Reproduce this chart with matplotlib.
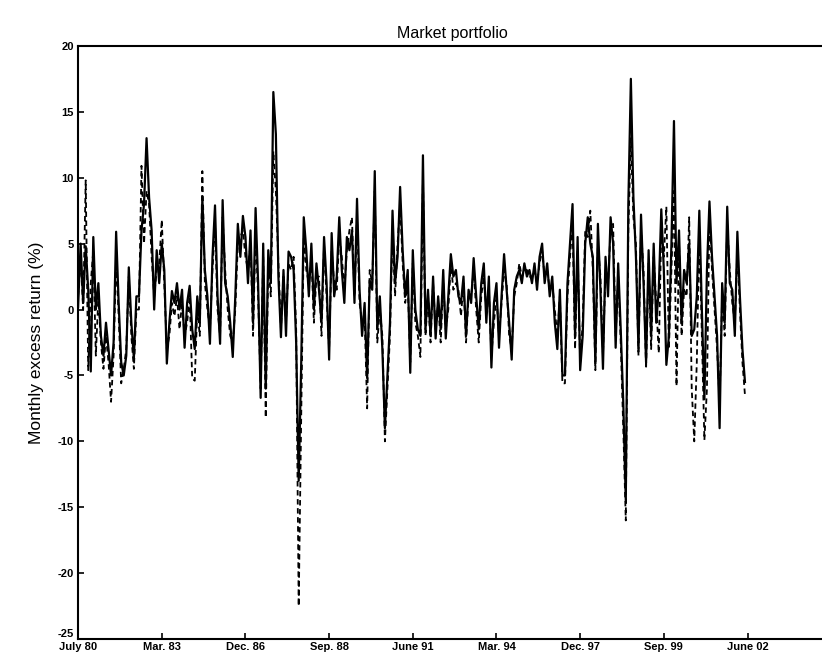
import numpy as np
import matplotlib
matplotlib.use("Agg")
import matplotlib.pyplot as plt

plt.rcParams['font.family'] = ['Liberation Sans', 'DejaVu Sans']
plt.rcParams['axes.unicode_minus'] = False

# Rendimientos mensuales en exceso (%), julio 1980 - junio 2002
solid = [
    0.2, 5.0, 0.5, 4.8, 1.5, -4.7, 5.5, 0.0, 2.0, -2.0, -3.5, -1.0,
    -3.0, -5.0, -2.5, 5.9, 0.5, -4.0, -5.0, -3.5, 3.2, -1.0, -3.7, 1.0,
    1.0, 6.0, 8.0, 13.0, 8.5, 6.0, 0.0, 4.5, 2.0, 5.0, 3.0, -4.1,
    -1.0, 1.4, 0.5, 2.0, 0.0, 1.5, -2.9, 0.5, 1.8, -1.5, -3.0, 1.0,
    -1.0, 8.5, 3.0, 1.0, -2.6, 4.0, 7.9, 1.0, -2.6, 8.3, 2.0, 1.0,
    -1.0, -3.6, 1.0, 6.5, 4.0, 7.1, 5.5, 2.0, 6.0, -1.0, 7.7, 2.0,
    -6.7, 5.0, -6.0, 4.5, 2.0, 16.5, 13.3, 2.5, -2.1, 3.0, -2.0, 4.4,
    4.0, 3.0, -2.5, -13.0, -4.0, 7.0, 4.5, 1.0, 5.0, 0.0, 3.5, 1.5,
    -1.0, 5.5, 2.0, -3.8, 5.8, 1.0, 2.5, 7.0, 3.0, 0.5, 5.5, 4.5,
    6.0, 0.5, 8.4, 1.5, -2.0, 0.5, -5.2, 2.2, 1.5, 10.5, -1.5, 1.0,
    -3.0, -9.0, -5.0, -1.0, 7.5, 2.0, 4.0, 9.3, 4.5, 1.0, 3.0, -4.8,
    4.5, 0.0, -1.5, -2.0, 11.7, -1.5, 1.5, -2.0, 2.5, -2.2, 1.0, -1.5,
    3.0, -2.2, 1.0, 4.2, 2.5, 3.0, 1.0, 0.5, 2.5, -2.0, 1.5, 0.5,
    3.9, 1.0, -1.5, 2.0, 3.5, -1.0, 2.5, -4.4, 0.5, 2.0, -2.9, 1.0,
    4.2, 1.5, -1.0, -3.8, 1.5, 2.5, 3.0, 2.0, 3.5, 2.5, 3.0, 2.0,
    3.5, 1.5, 4.0, 5.0, 2.0, 3.5, 1.0, 2.5, -1.0, -3.0, 1.5, -5.0,
    -5.0, 2.0, 5.0, 8.0, -2.0, 5.5, -4.6, -2.0, 5.0, 7.0, 5.0, 4.0,
    -4.1, 6.5, 1.5, -4.5, 4.0, 1.0, 7.0, 5.0, -2.9, 3.5, -1.5, -7.0,
    -14.5, 8.0, 17.5, 8.5, 4.0, -3.0, 7.2, 2.0, -4.0, 4.5, -2.0, 5.0,
    -1.0, 1.5, 7.6, 3.0, -4.2, -2.0, 5.0, 14.3, 2.0, 6.0, -1.0, 3.0,
    2.0, 5.0, -2.0, -1.5, 1.0, 7.5, 0.0, -6.8, 3.0, 8.2, 4.0, 1.0,
    -2.0, -9.0, 2.0, -1.0, 7.8, 2.0, 1.5, -2.0, 5.9, 1.0, -3.0, -5.5,
]
dashed = [
    1.0, 4.0, 0.0, 9.8, -4.6, 2.0, 4.5, -3.5, 1.0, -2.5, -4.5, -2.0,
    -4.0, -7.0, -3.5, 4.0, -0.5, -5.6, -4.5, -3.0, 2.5, -2.0, -4.5, 0.0,
    0.0, 10.9, 5.0, 9.0, 8.0, 4.0, 1.0, 3.0, 3.5, 6.8, 2.0, -3.0,
    -2.0, 0.5, -0.5, 1.0, -1.5, 0.5, -2.0, -1.0, 1.0, -5.2, -5.4, 0.0,
    -2.0, 10.5, 2.0, 0.0, -1.5, 3.0, 6.5, 0.0, -2.0, 7.0, 3.0, 0.0,
    -2.0, -2.5, 0.0, 5.0, 5.5, 6.0, 4.0, 3.0, 5.0, -2.0, 6.0, 1.0,
    -6.0, 4.0, -8.2, 3.5, 1.0, 12.0, 9.0, 3.5, -1.5, 2.5, -1.0, 3.5,
    3.0, 4.0, -1.5, -22.5, -8.0, 5.5, 3.0, 2.0, 4.0, -1.0, 2.5, 2.5,
    -2.0, 4.9, 1.0, -3.0, 4.5, 2.0, 1.5, 5.5, 4.0, 1.5, 4.5, 6.0,
    7.0, 1.0, 7.0, 0.5, -1.0, -0.5, -7.5, 3.0, 2.0, 9.0, -2.5, 0.0,
    -2.0, -10.0, -6.0, -2.0, 6.0, 1.0, 5.0, 8.0, 3.5, 0.5, 2.0, -4.0,
    3.5, -1.0, -2.0, -3.6, 10.0, -2.0, 1.0, -2.5, 2.0, -1.5, 0.5, -2.5,
    2.0, -1.5, 0.0, 3.5, 1.5, 2.0, 1.5, -0.5, 2.0, -2.5, 1.0, 1.0,
    3.0, 0.0, -2.5, 1.0, 2.5, 0.0, 1.5, -3.5, -1.0, 1.0, -2.0, 0.5,
    3.0, 2.0, -2.0, -3.0, 1.0, 2.0, 3.5, 2.5, 3.0, 3.0, 2.5, 2.5,
    3.0, 2.0, 3.5, 4.5, 2.5, 3.0, 1.5, 2.0, 0.0, -2.0, 1.0, -5.6,
    -5.6, 1.0, 4.0, 6.5, -3.0, 4.5, -4.0, -1.0, 6.0, 5.5, 7.5, 3.0,
    -4.6, 5.0, 2.5, -3.5, 3.0, 2.0, 6.0, 6.5, -2.0, 2.5, -2.5, -9.0,
    -16.0, 6.0, 13.0, 7.0, 5.0, -3.5, 6.0, 3.0, -4.5, 3.5, -3.0, 4.0,
    0.5, -3.3, 6.0, 4.0, 7.8, -3.0, 3.0, 9.0, -5.8, 5.0, -2.0, 1.5,
    1.0, 7.0, -6.0, -10.0, -4.0, 6.0, -2.0, -9.9, -6.0, 7.0, 3.0, 0.0,
    -3.0, -7.0, 1.0, -2.0, 6.5, 3.0, 0.5, -1.0, 4.5, 0.0, -4.0, -6.5,
]
tick_labels = ["July 80", "Mar. 83", "Dec. 86", "Sep. 88", "June 91",
               "Mar. 94", "Dec. 97", "Sep. 99", "June 02"]
tick_months = [0, 33, 66, 99, 132, 165, 198, 231, 264]

months = np.arange(len(solid))

fig = plt.figure(figsize=(8.22, 6.65), dpi=100)
ax = fig.add_axes([0.095, 0.039, 0.91, 0.892])

ax.plot(months, solid, color="black", lw=1.6)
ax.plot(months, dashed, color="black", lw=1.3, ls=(0, (3, 2)))

ax.set_xlim(0, 295)
ax.set_ylim(-25, 20)
ax.set_yticks(np.arange(-25, 21, 5))
ax.set_xticks(tick_months)
ax.set_xticklabels(tick_labels)
ax.tick_params(direction="in", length=4, width=1.2, labelsize=8)
ax.tick_params(axis="x", pad=2)
ax.tick_params(axis="y", pad=3)
for lab in ax.get_xticklabels() + ax.get_yticklabels():
    lab.set_fontweight("bold")
# el -25 queda apenas encima de "July 80"
ax.get_yticklabels()[0].set_verticalalignment("bottom")
for s in ax.spines.values():
    s.set_linewidth(1.5)

ax.set_ylabel("Monthly excess return (%)", fontsize=12.5, labelpad=10)
ax.set_title("Market portfolio", fontsize=11.5, pad=6)

fig.savefig("out.png", dpi=100)
